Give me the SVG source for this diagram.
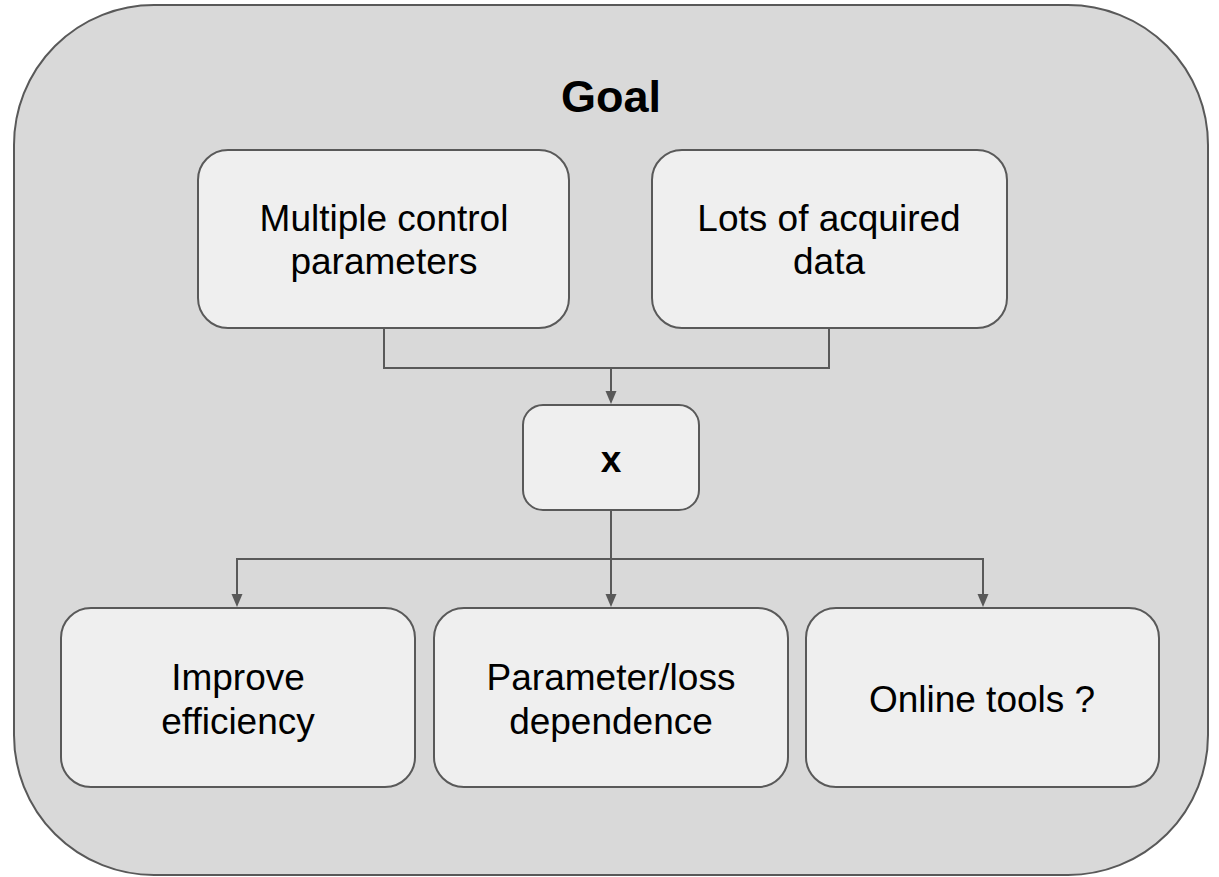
<svg xmlns="http://www.w3.org/2000/svg" width="1219" height="877" viewBox="0 0 1219 877">
<style>
.box{fill:#efefef;stroke:#595959;stroke-width:2}
.t{font-family:"Liberation Sans",Arial,sans-serif;font-size:37px;fill:#000;text-anchor:middle}
.b{font-weight:bold}
.c{fill:none;stroke:#595959;stroke-width:2}
.ah{fill:#595959}
</style>
<rect width="1219" height="877" fill="#ffffff"/>
<g id="goal">
<rect x="14" y="5" width="1194" height="870" rx="140" ry="140" fill="#d9d9d9" stroke="#595959" stroke-width="2"/>
<text class="t b" x="611" y="112" style="font-size:45px">Goal</text>
</g>
<g id="connectors">
<path class="c" d="M384,328 V368 H829 V328"/>
<path class="c" d="M611,368 V391"/>
<path class="ah" d="M605.5,391 L616.5,391 L611,404 Z"/>
<path class="c" d="M611,510 V594"/>
<path class="ah" d="M605.5,594 L616.5,594 L611,607 Z"/>
<path class="c" d="M237,594 V559 H983 V594"/>
<path class="ah" d="M231.5,594 L242.5,594 L237,607 Z"/>
<path class="ah" d="M977.5,594 L988.5,594 L983,607 Z"/>
</g>
<g id="n1">
<rect class="box" x="198" y="150" width="371" height="178" rx="30"/>
<text class="t" x="384" y="231">Multiple control</text>
<text class="t" x="384" y="274">parameters</text>
</g>
<g id="n2">
<rect class="box" x="652" y="150" width="355" height="178" rx="30"/>
<text class="t" x="829" y="231">Lots of acquired</text>
<text class="t" x="829" y="274">data</text>
</g>
<g id="nx">
<rect class="box" x="523" y="405" width="176" height="105" rx="20"/>
<text class="t b" x="611" y="472">x</text>
</g>
<g id="n3">
<rect class="box" x="61" y="608" width="354" height="179" rx="30"/>
<text class="t" x="238" y="690">Improve</text>
<text class="t" x="238" y="734">efficiency</text>
</g>
<g id="n4">
<rect class="box" x="434" y="608" width="354" height="179" rx="30"/>
<text class="t" x="611" y="690">Parameter/loss</text>
<text class="t" x="611" y="734">dependence</text>
</g>
<g id="n5">
<rect class="box" x="806" y="608" width="353" height="179" rx="30"/>
<text class="t" x="982" y="712">Online tools ?</text>
</g>
</svg>
